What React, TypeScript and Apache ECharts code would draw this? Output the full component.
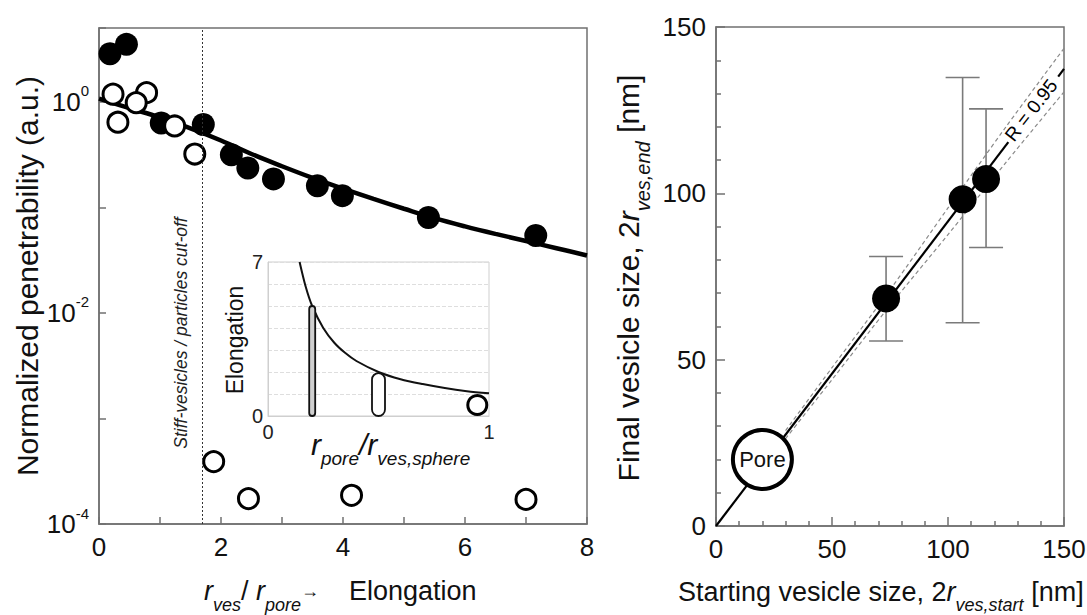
import React, { useEffect, useRef } from 'react';
import * as echarts from 'echarts';

// ---------- Left panel: normalized penetrability vs r_ves / r_pore ----------
const filledX = [0.18, 0.45, 1.02, 1.71, 2.17, 2.44, 2.86, 3.58, 3.99, 5.4, 7.16];
const filledY = [2.85, 3.5, 0.63, 0.61, 0.315, 0.236, 0.186, 0.16, 0.129, 0.08, 0.054];
const openX = [0.23, 0.78, 0.61, 0.31, 1.24, 1.57, 1.88, 2.45, 4.14, 7.0];
const openY = [1.18, 1.22, 0.98, 0.64, 0.59, 0.32, 3.9e-4, 1.74e-4, 1.87e-4, 1.71e-4];
const fitX = [0, 0.5, 1, 1.5, 2, 2.5, 3, 3.5, 4, 4.5, 5, 5.5, 6, 6.5, 7, 7.5, 8];
const fitY = [1.07, 0.87, 0.71, 0.56, 0.43, 0.32, 0.245, 0.19, 0.15, 0.12, 0.097, 0.079, 0.066, 0.056, 0.048, 0.041, 0.035];
const cutoffX = 1.7;

// ---------- Inset: elongation vs r_pore / r_ves,sphere ----------
const insetX = [0.143, 0.17, 0.2, 0.25, 0.3, 0.35, 0.4, 0.5, 0.6, 0.7, 0.8, 0.9, 1.0];
const insetY = [7.0, 5.9, 5.0, 4.0, 3.33, 2.86, 2.5, 2.0, 1.67, 1.45, 1.27, 1.13, 1.03];
const capsuleX = [0.2, 0.5];
const capsuleLen = [5.0, 1.95];
const sphereX = [0.947];
const sphereY = [0.5];

// ---------- Right panel: final vs starting vesicle size ----------
const startSize = [73.3, 106.3, 116.4];
const endSize = [68.4, 98.2, 104.3];
const endLow = [55.6, 61.1, 83.7];
const endHigh = [81.0, 134.8, 125.4];
const poreX = [20];
const poreY = [20];
const fitAX = [0, 126];
const fitAY = [0, 115.4];
const fitBX = [147.5, 150];
const fitBY = [135.1, 137.4];
const bandX = [30, 50, 75, 100, 125, 150];
const bandUpper = [28.7, 47.6, 71.0, 95.6, 120.0, 143.6];
const bandLower = [26.3, 44.0, 66.3, 87.6, 109.3, 130.5];
const rLabelX = [135.8];
const rLabelY = [125.0];

const F = '"Liberation Sans", Arial, Helvetica, sans-serif';
const AX = '#707070';

function buildOption(): any {
  const pair = (xs: number[], ys: number[]) => xs.map((x, i) => [x, ys[i]]);
  const tickLabel = { fontSize: 26, color: '#111', fontFamily: F, margin: 10 };

  return {
    animation: false,
    backgroundColor: '#fff',
    textStyle: { fontFamily: F },
    grid: [
      { left: 99, top: 28, width: 488, height: 496, show: true, borderColor: AX, borderWidth: 1.5, backgroundColor: 'transparent', outerBoundsMode: 'none' },
      { left: 716, top: 27, width: 348, height: 499, show: true, borderColor: AX, borderWidth: 1.5, backgroundColor: 'transparent', outerBoundsMode: 'none' },
      { left: 268, top: 262, width: 221, height: 154, show: true, borderColor: '#cfcfcf', borderWidth: 1, backgroundColor: '#fff', outerBoundsMode: 'none' },
    ],
    xAxis: [
      {
        gridIndex: 0, type: 'value', min: 0, max: 8, interval: 1,
        axisLine: { lineStyle: { color: AX, width: 1.5 } },
        axisTick: { inside: true, length: 7, lineStyle: { color: AX, width: 1.5 } },
        axisLabel: { ...tickLabel, formatter: (v: number) => (Math.round(v) % 2 === 0 ? String(v) : '') },
        splitLine: { show: false },
      },
      {
        gridIndex: 1, type: 'value', min: 0, max: 150, interval: 50,
        axisLine: { lineStyle: { color: AX, width: 1.5 } },
        axisTick: { inside: true, length: 9, lineStyle: { color: AX, width: 1.5 } },
        minorTick: { show: true, splitNumber: 5, length: 5, lineStyle: { color: AX, width: 1.5 } },
        axisLabel: { ...tickLabel },
        splitLine: { show: false },
      },
      {
        gridIndex: 2, type: 'value', min: 0, max: 1, interval: 1,
        axisLine: { lineStyle: { color: '#cfcfcf', width: 1 } },
        axisTick: { show: false },
        axisLabel: { fontSize: 20, color: '#222', fontFamily: F, margin: 6 },
        splitLine: { show: false },
      },
    ],
    yAxis: [
      {
        gridIndex: 0, type: 'log', logBase: 10, min: 1e-4, max: 5, interval: 1,
        axisLine: { lineStyle: { color: AX, width: 1.5 } },
        axisTick: { inside: true, length: 7, lineStyle: { color: AX, width: 1.5 } },
        axisLabel: {
          margin: 10,
          formatter: (v: number) => {
            const l = Math.log10(v);
            const e = Math.round(l);
            if (Math.abs(l - e) > 1e-6 || e % 2 !== 0) return '';
            return '{b|10}{s|' + e + '}';
          },
          rich: {
            b: { fontSize: 26, color: '#111', fontFamily: F, lineHeight: 28 },
            s: { fontSize: 15, color: '#111', fontFamily: F, lineHeight: 15, padding: [0, 0, 22, 0] },
          },
        },
        splitLine: { show: false },
      },
      {
        gridIndex: 1, type: 'value', min: 0, max: 150, interval: 50,
        axisLine: { lineStyle: { color: AX, width: 1.5 } },
        axisTick: { inside: true, length: 9, lineStyle: { color: AX, width: 1.5 } },
        minorTick: { show: true, splitNumber: 5, length: 5, lineStyle: { color: AX, width: 1.5 } },
        axisLabel: { ...tickLabel },
        splitLine: { show: false },
      },
      {
        gridIndex: 2, type: 'value', min: 0, max: 7, interval: 1,
        axisLine: { lineStyle: { color: '#cfcfcf', width: 1 } },
        axisTick: { show: false },
        axisLabel: { fontSize: 20, color: '#222', fontFamily: F, margin: 5, formatter: (v: number) => (v === 0 || v === 7 ? String(v) : '') },
        splitLine: { show: true, lineStyle: { color: '#dedede', type: [4, 2], width: 1 } },
      },
    ],
    series: [
      // ----- left panel -----
      {
        type: 'line', xAxisIndex: 0, yAxisIndex: 0, data: pair(fitX, fitY), smooth: 0.4, showSymbol: false, symbol: 'none',
        lineStyle: { color: '#000', width: 4.5 }, z: 2,
        markLine: {
          silent: true, symbol: 'none', label: { show: false },
          lineStyle: { type: [2, 2], color: '#333', width: 1 },
          data: [{ xAxis: cutoffX }],
        },
      },
      {
        type: 'scatter', xAxisIndex: 0, yAxisIndex: 0, data: pair(filledX, filledY), symbolSize: 23,
        itemStyle: { color: '#000', opacity: 1 }, z: 3,
      },
      {
        type: 'scatter', xAxisIndex: 0, yAxisIndex: 0, data: pair(openX, openY), symbolSize: 20,
        itemStyle: { color: '#fff', borderColor: '#000', borderWidth: 3, opacity: 1 }, z: 4,
      },
      // ----- inset -----
      {
        type: 'line', xAxisIndex: 2, yAxisIndex: 2, data: pair(insetX, insetY), smooth: 0.3, showSymbol: false, symbol: 'none',
        lineStyle: { color: '#111', width: 2 }, z: 5,
      },
      {
        type: 'custom', xAxisIndex: 2, yAxisIndex: 2, data: pair(capsuleX, capsuleLen), encode: { x: 0, y: 1 }, z: 6,
        renderItem: (params: any, api: any) => {
          const x = api.value(0);
          const p0 = api.coord([x, 0]);
          const p1 = api.coord([x, api.value(1)]);
          const w = params.dataIndex === 0 ? 6 : 13;
          return {
            type: 'rect',
            shape: { x: p0[0] - w / 2, y: p1[1], width: w, height: p0[1] - p1[1], r: w / 2 },
            style: { fill: params.dataIndex === 0 ? '#cfcfcf' : '#fff', stroke: '#111', lineWidth: 1.8 },
          };
        },
      },
      {
        type: 'scatter', xAxisIndex: 2, yAxisIndex: 2, data: pair(sphereX, sphereY), symbolSize: 19,
        itemStyle: { color: '#fff', borderColor: '#000', borderWidth: 3, opacity: 1 }, z: 6,
      },
      // ----- right panel -----
      {
        type: 'line', xAxisIndex: 1, yAxisIndex: 1, data: pair(bandX, bandUpper), showSymbol: false, symbol: 'none', smooth: 0.3,
        lineStyle: { color: '#8a8a8a', width: 1.2, type: [4, 3] }, z: 2,
      },
      {
        type: 'line', xAxisIndex: 1, yAxisIndex: 1, data: pair(bandX, bandLower), showSymbol: false, symbol: 'none', smooth: 0.3,
        lineStyle: { color: '#8a8a8a', width: 1.2, type: [4, 3] }, z: 2,
      },
      {
        type: 'line', xAxisIndex: 1, yAxisIndex: 1, data: pair(fitAX, fitAY), showSymbol: false, symbol: 'none',
        lineStyle: { color: '#000', width: 2.2 }, z: 3,
      },
      {
        type: 'line', xAxisIndex: 1, yAxisIndex: 1, data: pair(fitBX, fitBY), showSymbol: false, symbol: 'none',
        lineStyle: { color: '#000', width: 2.2 }, z: 3,
      },
      {
        type: 'custom', xAxisIndex: 1, yAxisIndex: 1, z: 4,
        data: startSize.map((x, i) => [x, endLow[i], endHigh[i]]),
        encode: { x: 0, y: [1, 2] },
        renderItem: (params: any, api: any) => {
          const x = api.value(0);
          const lo = api.coord([x, api.value(1)]);
          const hi = api.coord([x, api.value(2)]);
          const hw = 17;
          const style = { stroke: '#7a7a7a', lineWidth: 1.6 };
          return {
            type: 'group',
            children: [
              { type: 'line', shape: { x1: lo[0], y1: lo[1], x2: hi[0], y2: hi[1] }, style },
              { type: 'line', shape: { x1: lo[0] - hw, y1: lo[1], x2: lo[0] + hw, y2: lo[1] }, style },
              { type: 'line', shape: { x1: hi[0] - hw, y1: hi[1], x2: hi[0] + hw, y2: hi[1] }, style },
            ],
          };
        },
      },
      {
        type: 'scatter', xAxisIndex: 1, yAxisIndex: 1, data: pair(startSize, endSize), symbolSize: 28,
        itemStyle: { color: '#000', opacity: 1 }, z: 5,
      },
      {
        type: 'scatter', xAxisIndex: 1, yAxisIndex: 1, data: pair(poreX, poreY), symbolSize: 59,
        itemStyle: { color: '#fff', borderColor: '#000', borderWidth: 4, opacity: 1 }, z: 6,
        label: { show: true, position: 'inside', formatter: 'Pore', fontSize: 22, color: '#111', fontFamily: F },
      },
      {
        type: 'scatter', xAxisIndex: 1, yAxisIndex: 1, data: pair(rLabelX, rLabelY), symbolSize: 1, z: 7,
        itemStyle: { color: '#ffffff', opacity: 1 },
        label: { show: true, position: 'inside', rotate: 52, formatter: 'R = 0.95', fontSize: 19, color: '#000', opacity: 1, fontFamily: F },
      },
    ],
    graphic: [
      {
        type: 'text', x: 27, y: 276, rotation: Math.PI / 2, z: 100,
        style: { text: 'Normalized penetrability (a.u.)', fontSize: 30, fontFamily: F, fill: '#111', align: 'center', verticalAlign: 'middle' },
      },
      {
        type: 'text', x: 181, y: 333, rotation: Math.PI / 2, z: 100,
        style: { text: 'Stiff-vesicles / particles cut-off', fontSize: 17.5, fontStyle: 'italic', fontFamily: F, fill: '#222', align: 'center', verticalAlign: 'middle' },
      },
      {
        type: 'text', x: 204, y: 591, z: 100,
        style: {
          text: '{i|r}{s|ves}{n|/ }{i|r}{s|pore}{a|\u2192}{n|    Elongation}',
          align: 'left', verticalAlign: 'middle',
          rich: {
            i: { fontSize: 27, fontStyle: 'italic', fontFamily: F, fill: '#111', lineHeight: 30 },
            n: { fontSize: 27, fontFamily: F, fill: '#111', lineHeight: 30 },
            s: { fontSize: 18, fontStyle: 'italic', fontFamily: F, fill: '#111', lineHeight: 18, padding: [28, 0, 0, 0] },
            a: { fontSize: 18, fontFamily: F, fill: '#111', lineHeight: 18 },
          },
        },
      },
      {
        type: 'text', x: 235, y: 340, rotation: Math.PI / 2, z: 100,
        style: { text: 'Elongation', fontSize: 23, fontFamily: F, fill: '#111', align: 'center', verticalAlign: 'middle' },
      },
      {
        type: 'text', x: 311, y: 444, z: 100,
        style: {
          text: '{i|r}{s|pore}{i|/r}{s|ves,sphere}',
          align: 'left', verticalAlign: 'middle',
          rich: {
            i: { fontSize: 30, fontStyle: 'italic', fontFamily: F, fill: '#111', lineHeight: 32 },
            s: { fontSize: 19, fontStyle: 'italic', fontFamily: F, fill: '#111', lineHeight: 19, padding: [28, 0, 0, 0] },
          },
        },
      },
      {
        type: 'text', x: 628, y: 278, rotation: Math.PI / 2, z: 100,
        style: {
          text: '{n|Final vesicle size, 2}{i|r}{s|ves,end}{n| [nm]}',
          align: 'center', verticalAlign: 'middle',
          rich: {
            n: { fontSize: 30, fontFamily: F, fill: '#111', lineHeight: 32 },
            i: { fontSize: 30, fontStyle: 'italic', fontFamily: F, fill: '#111', lineHeight: 32 },
            s: { fontSize: 20, fontStyle: 'italic', fontFamily: F, fill: '#111', lineHeight: 20, padding: [30, 0, 0, 0] },
          },
        },
      },
      {
        type: 'text', x: 678, y: 592, z: 100,
        style: {
          text: '{n|Starting vesicle size, 2}{i|r}{s|ves,start}{n| [nm]}',
          align: 'left', verticalAlign: 'middle',
          rich: {
            n: { fontSize: 27, fontFamily: F, fill: '#111', lineHeight: 30 },
            i: { fontSize: 27, fontStyle: 'italic', fontFamily: F, fill: '#111', lineHeight: 30 },
            s: { fontSize: 18, fontStyle: 'italic', fontFamily: F, fill: '#111', lineHeight: 18, padding: [26, 0, 0, 0] },
          },
        },
      },
    ],
  };
}

export default function App() {
  const ref = useRef<HTMLDivElement>(null);
  useEffect(() => {
    if (!ref.current) return;
    const chart = echarts.init(ref.current, null, { renderer: 'svg' });
    chart.setOption(buildOption());
    return () => chart.dispose();
  }, []);
  return (
    <div
      ref={ref}
      style={{ position: 'fixed', left: 0, top: 0, width: 1087, height: 615, background: '#fff' }}
    />
  );
}
